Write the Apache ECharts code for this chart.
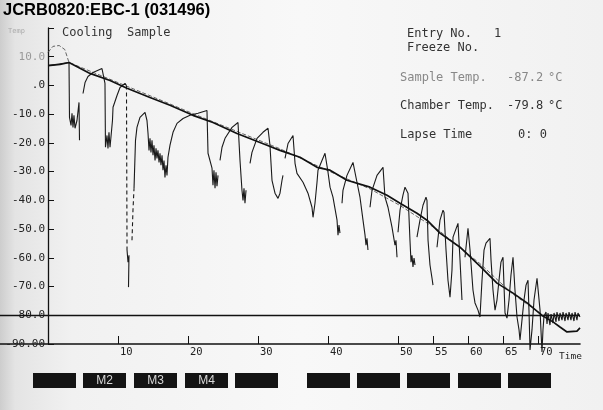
<!DOCTYPE html>
<html><head><meta charset="utf-8">
<script src="https://cdn.jsdelivr.net/npm/echarts@6/dist/echarts.min.js"></script>
<style>html,body{margin:0;padding:0;background:#f3f3f3}#c{width:603px;height:410px}</style>
</head><body><div id="c"></div>
<script>
// ---- data (time in minutes, temperature in °C) ----
const xTickValues = [10, 20, 30, 40, 50, 55, 60, 65, 70];

const sampleTemp = [
  [0,6.9],[1.71,7.3],[3.0,8.0],[6.0,4.2],[8.86,1.7],[11.29,-1.0],[14.57,-4.2],[17.43,-6.9],
  [20.71,-10.4],[23.57,-12.9],[27.0,-16.7],[31.29,-20.8],[33.14,-22.6],[36.0,-25.0],[38.43,-28.5],
  [40.29,-29.5],[42.71,-33.0],[46.0,-35.4],[48.43,-38.2],[50.29,-41.0],[52.71,-44.5],[54.14,-46.9],
  [56.0,-51.4],[58.86,-56.3],[61.71,-62.9],[64.14,-68.8],[66.43,-72.3],[68.43,-75.7],[70.71,-80.3],
  [72.14,-82.3],[73.14,-84.1],[74.14,-85.8],[75.57,-85.5],[76.0,-84.4]
];

const programTemp = [
  [0,11.5],[0.7,13.6],[1.6,13.9],[2.4,12.5],[3.0,8.0],[8.0,3.0],[11.3,-0.3],[16.0,-5.0],[20.7,-9.8],
  [27.0,-16.0],[33.1,-22.0],[40.3,-30.0],[46.0,-36.0],[50.3,-41.8],[56.0,-50.8],[61.7,-62.0],
  [66.4,-72.6],[70.7,-80.0],[76.0,-80.0]
];

const chamberTemp = [
  [0,6.9],[3.0,8.0],[3.07,-11.1],[3.29,-13.9],[3.43,-9.7],[3.57,-14.6],[3.71,-10.4],[3.86,-14.9],[4.14,-12.2],[4.43,-5.9],[4.5,-19.1],[4.7,null],
  [5.0,-2.8],[5.29,1.0],[5.71,3.1],[6.43,4.5],[7.71,5.9],
  [8.0,2.4],[8.14,0.7],[8.21,-21.5],[8.43,-17.4],[8.57,-21.9],[8.71,-16.3],[8.86,-21.5],[9.14,-21.5],[9.21,-12.2],[9.29,-7.6],[9.86,-3.5],[10.29,-0.7],[11.0,0.7],[11.21,0],[11.25,null],
  [11.29,-57.3],[11.43,-61.5],[11.57,-59.1],[11.5,-70.2],[11.8,null],
  [12.29,-35.8],[12.5,-19.1],[12.71,-14.6],[13.14,-11.1],[13.86,-9.4],
  [14.14,-12.2],[14.29,-16.7],[14.43,-22.6],[14.57,-18.4],[14.71,-23.3],[14.86,-19.1],[15.0,-24.3],[15.14,-20.8],[15.29,-26.1],[15.43,-21.9],
  [15.57,-25.4],[15.71,-22.6],[15.86,-26.8],[16.0,-23.6],[16.14,-27.8],[16.29,-24.3],[16.43,-29.5],[16.57,-26.1],[16.71,-32.0],[16.86,-27.8],[17.0,-31.3],
  [17.14,-25.0],[17.43,-20.8],[17.86,-16.3],[18.43,-13.2],[19.29,-11.5],[20.29,-10.4],[21.43,-9.7],[22.71,-8.7],
  [22.86,-23.6],[23.43,-28.8],[23.57,-34.7],[23.71,-29.5],[23.86,-35.8],[24.0,-30.2],[24.14,-35.1],[24.29,-31.3],[24.4,null],
  [24.57,-26.1],[24.86,-21.5],[25.29,-18.4],[26.29,-14.6],[27.14,-12.9],
  [27.43,-26.1],[27.71,-36.5],[27.86,-40.0],[28.0,-35.8],[28.14,-41.0],[28.29,-36.5],[28.5,null],
  [28.86,-27.1],[29.14,-23.3],[29.86,-18.4],[30.71,-16.3],[31.43,-14.9],
  [31.71,-20.8],[32.0,-33.0],[32.43,-37.5],[32.86,-39.3],[33.14,-37.5],[33.43,-33.0],[33.57,-31.3],[33.7,null],
  [33.86,-25.4],[34.29,-20.2],[35.0,-17.4],
  [35.29,-27.1],[35.57,-30.6],[36.43,-33.7],[37.14,-37.5],[37.71,-42.4],[37.86,-45.9],[38.14,-41.0],[38.43,-33.7],[38.57,-29.5],[39.14,-26.1],[39.57,-23.6],
  [40.0,-30.2],[40.29,-35.4],[40.71,-38.9],[41.29,-46.9],[41.43,-52.1],[41.57,-48.6],[41.71,-51.4],[41.85,null],
  [42.0,-41.0],[42.14,-36.5],[42.71,-31.3],[43.57,-26.8],
  [44.14,-33.7],[44.57,-38.9],[45.0,-46.9],[45.29,-52.1],[45.43,-55.6],[45.57,-53.2],[45.71,-57.3],[45.85,null],
  [46.0,-42.4],[46.29,-36.5],[47.0,-31.3],[47.86,-28.5],
  [48.14,-38.9],[48.57,-42.4],[49.14,-49.3],[49.57,-55.6],[49.71,-53.9],[49.86,-59.8],[49.93,null],
  [50.0,-51.1],[50.29,-43.4],[50.71,-38.2],[51.0,-35.4],
  [51.43,-37.5],[51.71,-53.9],[51.86,-61.5],[52.0,-59.1],[52.14,-63.2],[52.29,-60.1],[52.43,-62.5],[52.57,null],
  [52.71,-52.8],[53.14,-46.9],[53.57,-41.7],[54.0,-38.9],
  [54.14,-40.0],[54.29,-53.9],[54.57,-62.5],[54.86,-67.1],[55.0,-69.5],[55.3,null],
  [55.57,-56.3],[56.0,-46.9],[56.43,-43.4],
  [56.57,-44.1],[56.86,-57.3],[57.14,-67.8],[57.43,-73.7],[57.71,-64.3],[57.86,-52.8],[58.57,-48.0],
  [58.86,-60.8],[59.14,-74.7],[59.3,null],
  [59.57,-59.8],[60.0,-49.7],
  [60.29,-57.3],[60.71,-71.2],[61.0,-75.7],[61.43,-78.2],[61.71,-80.6],[62.0,-67.8],[62.29,-57.3],[62.57,-54.9],[63.14,-53.2],
  [63.29,-60.8],[63.57,-71.2],[63.86,-78.2],[64.14,-74.7],[64.43,-67.8],[64.71,-61.5],[65.0,-59.8],
  [65.14,-69.5],[65.29,-79.2],[65.57,-81.0],[65.86,-74.7],[66.14,-66.0],[66.43,-59.8],
  [66.71,-71.2],[67.0,-80.6],[67.29,-85.1],[67.43,-88.6],[67.71,-81.7],[68.0,-74.7],[68.29,-69.5],[68.57,-67.8],
  [68.71,-78.2],[68.86,-92.1],[69.14,-85.1],[69.43,-74.7],[69.86,-67.1],[70.14,-66.7],
  [70.29,-78.2],[70.57,-92.8],[70.71,-85.1],[70.86,-80.3],
  [71.14,-78.9],[71.29,-83.0],[71.43,-79.2],[71.71,-83.4],[71.86,-79.6],[72.14,-82.7],[72.29,-79.2],[72.57,-82.3],[72.71,-78.9],
  [73.0,-82.0],[73.14,-79.2],[73.43,-81.7],[73.57,-78.9],[73.86,-82.0],[74.0,-79.2],[74.29,-81.7],[74.43,-78.9],[74.71,-81.7],
  [74.86,-79.2],[75.14,-82.0],[75.29,-78.9],[75.57,-81.7],[75.71,-79.2],[76.0,-80.6]
];

const chamberDashed = [
  [11.21,0],[11.29,-57.3],[11.6,null],[12.0,-53.9],[12.14,-43.4],[12.29,-35.8]
];

const buttonLabels = ['', 'M2', 'M3', 'M4', '', '', '', '', '', ''];
const panelLabels = ['Entry No.', 'Freeze No.', 'Sample Temp.', 'Chamber Temp.', 'Lapse Time'];
const panelValues = ['1', '', '-87.2', '-79.8', '0: 0'];
const panelUnits = ['', '', '°C', '°C', ''];

// ---- chart ----
const chart = echarts.init(document.getElementById('c'));
const MONO = '"DejaVu Sans Mono", monospace';

const panelY = [34, 48, 78, 106, 135];
const panelX = [407, 407, 400, 400, 400];
const valueX = [494, 0, 507, 507, 518];
const graphics = [];
graphics.push({type:'text', x:3, y:10, style:{text:'JCRB0820:EBC-1 (031496)', font:'bold 16.5px "Liberation Sans", Arial, sans-serif', fill:'#000', verticalAlign:'middle'}});
graphics.push({type:'text', x:8, y:31, style:{text:'Temp', font:'7px ' + MONO, fill:'#aaa', verticalAlign:'middle'}});
graphics.push({type:'text', x:62, y:33, style:{text:'Cooling  Sample', font:'12px ' + MONO, fill:'#333', verticalAlign:'middle'}});
graphics.push({type:'text', x:559, y:357, style:{text:'Time', font:'9.5px ' + MONO, fill:'#222', verticalAlign:'middle'}});
panelLabels.forEach((t, i) => {
  const col = i === 2 ? '#888' : '#333';
  graphics.push({type:'text', x:panelX[i], y:panelY[i], style:{text:t, font:'12px ' + MONO, fill:col, verticalAlign:'middle'}});
  if (panelValues[i]) graphics.push({type:'text', x:valueX[i], y:panelY[i], style:{text:panelValues[i], font:'12px ' + MONO, fill:col, verticalAlign:'middle'}});
  if (panelUnits[i]) graphics.push({type:'text', x:548, y:panelY[i], style:{text:panelUnits[i], font:'12px ' + MONO, fill:col, verticalAlign:'middle'}});
});
const btnX = [33, 83, 134, 185, 235, 307, 357, 407, 458, 508];
buttonLabels.forEach((lab, i) => {
  graphics.push({type:'rect', shape:{x:btnX[i], y:373, width:43, height:15}, style:{fill:'#141414'}});
  if (lab) graphics.push({type:'text', x:btnX[i] + 21.5, y:381, style:{text:lab, font:'12px "Liberation Sans Narrow", "Liberation Sans", sans-serif', fill:'#d8d8d8', align:'center', verticalAlign:'middle'}});
});

chart.setOption({
  animation: false,
  backgroundColor: {type:'linear', x:0, y:0, x2:1, y2:0, colorStops:[
    {offset:0, color:'#cdcdcd'}, {offset:0.025, color:'#e4e4e4'}, {offset:0.12, color:'#f1f1f1'},
    {offset:0.5, color:'#f8f8f8'}, {offset:1, color:'#f1f1f1'}]},
  grid: {left:0, right:23, top:28, bottom:66, outerBoundsMode:'none', containLabel:false},
  xAxis: {
    type:'value', min:-48/7, max:76,
    axisLine:{onZero:false, lineStyle:{color:'#111', width:1.6}},
    axisTick:{show:true, inside:true, length:8, customValues:xTickValues, lineStyle:{color:'#111', width:1}},
    axisLabel:{customValues:xTickValues, align:'left', margin:3, padding:[0,0,0,2], fontFamily:MONO, fontSize:10.5, color:'#222'},
    splitLine:{show:false}
  },
  yAxis: {
    type:'value', min:-90, max:20, interval:10,
    axisLine:{show:true, onZero:true, lineStyle:{color:'#111', width:1.3}},
    axisTick:{show:true, inside:true, length:6, lineStyle:{color:'#111'}},
    axisLabel:{margin:-45, align:'right', fontFamily:MONO, fontSize:11, color:(v) => (+v >= 10 ? '#999' : '#222'),
      formatter:(v) => v === -90 ? '-90.00' : v === 0 ? '.0' : v === 20 ? '' : v.toFixed(1)},
    splitLine:{show:false}
  },
  graphic: graphics,
  series: [
    {type:'line', data:programTemp, symbol:'none', lineStyle:{color:'#555', width:0.9, type:[4,2]}, z:2},
    {type:'line', data:chamberTemp, symbol:'none', clip:false, connectNulls:false, lineStyle:{color:'#1a1a1a', width:1.1}, z:3},
    {type:'line', data:chamberDashed, symbol:'none', connectNulls:false, lineStyle:{color:'#1a1a1a', width:1.1, type:[4,3]}, z:3},
    {type:'line', data:sampleTemp, symbol:'none', lineStyle:{color:'#111', width:1.7}, z:4,
      markLine:{silent:true, symbol:['none','none'], label:{show:false}, lineStyle:{color:'#111', width:1.3, type:'solid'}, data:[{yAxis:-80}]}}
  ]
});
</script>
</body></html>
